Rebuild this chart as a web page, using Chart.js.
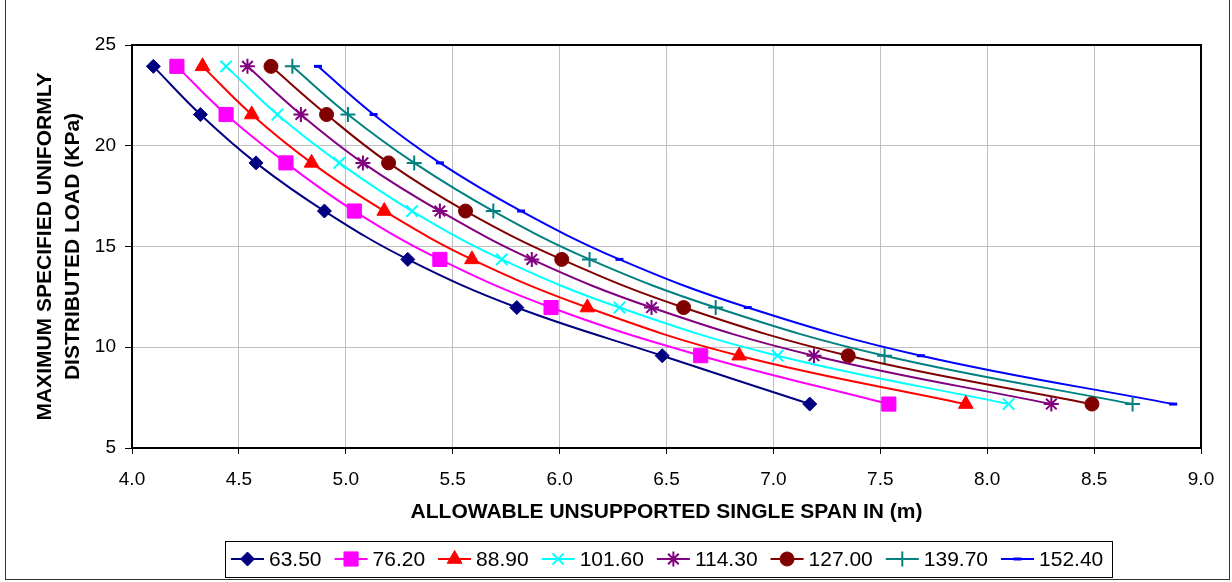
<!DOCTYPE html>
<html>
<head>
<meta charset="utf-8">
<script src="https://cdn.jsdelivr.net/npm/chart.js@4.4.0/dist/chart.umd.min.js"></script>
<style>
  html, body { margin: 0; padding: 0; background: #fff; }
</style>
</head>
<body>
<canvas id="myChart" width="1232" height="582"></canvas>
<script>
// load levels (KPa), shared by every series
const loads = [23.94, 21.55, 19.15, 16.76, 14.36, 11.97, 9.58, 7.18];

const seriesNames = ["63.50", "76.20", "88.90", "101.60", "114.30", "127.00", "139.70", "152.40"];

// allowable span (m) for each series, one per load level
const span6350 = [4.10, 4.32, 4.58, 4.90, 5.29, 5.80, 6.48, 7.17];
const span7620 = [4.21, 4.44, 4.72, 5.04, 5.44, 5.96, 6.66, 7.54];
const span8890 = [4.33, 4.56, 4.84, 5.18, 5.59, 6.13, 6.84, 7.90];
const span10160 = [4.44, 4.68, 4.97, 5.31, 5.73, 6.28, 7.02, 8.10];
const span11430 = [4.54, 4.79, 5.08, 5.44, 5.87, 6.43, 7.19, 8.30];
const span12700 = [4.65, 4.91, 5.20, 5.56, 6.01, 6.58, 7.35, 8.49];
const span13970 = [4.75, 5.01, 5.32, 5.69, 6.14, 6.73, 7.52, 8.68];
const span15240 = [4.87, 5.13, 5.44, 5.82, 6.28, 6.88, 7.69, 8.87];

const spans = [span6350, span7620, span8890, span10160, span11430, span12700, span13970, span15240];

const colors = ["#000080", "#ff00ff", "#ff0000", "#00ffff", "#800080", "#800000", "#008080", "#0000ff"];
const markers = ["rectRot", "rect", "triangle", "crossRot", "star", "circle", "cross", "line"];
const markerSize = [7, 10, 8.5, 8, 7.5, 7, 7.5, 4];
const markerLine = [1, 1, 1, 2, 2, 1, 2, 3];

const FONT = "'Liberation Sans', Arial, sans-serif";

const datasets = seriesNames.map(function (name, i) {
  return {
    label: name,
    data: spans[i].map(function (x, j) { return { x: x, y: loads[j] }; }),
    borderColor: colors[i],
    backgroundColor: colors[i],
    borderWidth: 2,
    tension: 0.4,
    pointStyle: markers[i],
    pointRadius: markerSize[i],
    pointBorderWidth: markerLine[i],
    pointBackgroundColor: colors[i],
    pointBorderColor: colors[i],
  };
});

// frame around plot area and whole figure
const frames = {
  id: "frames",
  afterDatasetsDraw(chart) {
    const ctx = chart.ctx;
    const a = chart.chartArea;
    ctx.save();
    ctx.strokeStyle = "#000";
    ctx.lineWidth = 2;
    ctx.strokeRect(a.left, a.top, a.right - a.left, a.bottom - a.top);
    ctx.lineWidth = 1;
    ctx.strokeStyle = "#333";
    ctx.strokeRect(5.5, -2, 1224, 581.5);
    ctx.restore();
  },
};

// excel-like legend: line with marker, in a box under the chart
const lineLegend = {
  id: "lineLegend",
  afterDraw(chart) {
    const ctx = chart.ctx;
    ctx.save();
    ctx.font = "21px " + FONT;
    const lineLen = 33, gapText = 5, gapItem = 13;
    const cy = 559;
    let x = 231;
    ctx.strokeStyle = "#000";
    ctx.lineWidth = 1;
    ctx.strokeRect(225.5, 541.5, 887, 36);
    chart.data.datasets.forEach(function (ds) {
      ctx.strokeStyle = ds.borderColor;
      ctx.lineWidth = 2;
      ctx.beginPath();
      ctx.moveTo(x, cy);
      ctx.lineTo(x + lineLen, cy);
      ctx.stroke();
      ctx.fillStyle = ds.pointBackgroundColor;
      ctx.lineWidth = ds.pointBorderWidth;
      Chart.helpers.drawPoint(ctx, {
        pointStyle: ds.pointStyle,
        radius: ds.pointRadius,
        borderWidth: ds.pointBorderWidth,
        rotation: 0,
      }, x + lineLen / 2, cy);
      ctx.fillStyle = "#000";
      ctx.textBaseline = "middle";
      ctx.textAlign = "left";
      const tx = x + lineLen + gapText;
      ctx.fillText(ds.label, tx, cy + 1);
      x = tx + ctx.measureText(ds.label).width + gapItem;
    });
    ctx.restore();
  },
};

const ctx = document.getElementById("myChart").getContext("2d");

new Chart(ctx, {
  type: "line",
  data: { datasets: datasets },
  options: {
    responsive: false,
    animation: false,
    layout: { padding: { left: 7, top: 45, right: 31, bottom: 54 } },
    plugins: {
      legend: { display: false },
      tooltip: { enabled: false },
    },
    scales: {
      x: {
        type: "linear",
        min: 4,
        max: 9,
        afterFit: function (s) { s.height = 80; },
        ticks: {
          stepSize: 0.5,
          color: "#000",
          padding: 14,
          font: { family: FONT, size: 19 },
          callback: function (v) { return v.toFixed(1); },
        },
        grid: { color: "#c0c0c0", tickColor: "#000", tickLength: 6, lineWidth: 1 },
        border: { color: "#000", width: 2 },
        title: {
          display: true,
          text: "ALLOWABLE UNSUPPORTED SINGLE SPAN IN (m)",
          color: "#000",
          font: { family: FONT, size: 21, weight: "bold", lineHeight: 1.2 },
          padding: { top: 0, bottom: 3 },
        },
      },
      y: {
        type: "linear",
        min: 5,
        max: 25,
        afterFit: function (s) { s.width = 125; },
        ticks: {
          stepSize: 5,
          color: "#000",
          padding: 9,
          font: { family: FONT, size: 19 },
        },
        grid: { color: "#c0c0c0", tickColor: "#000", tickLength: 7, lineWidth: 1 },
        border: { color: "#000", width: 2 },
        title: {
          display: true,
          text: ["MAXIMUM SPECIFIED UNIFORMLY", "DISTRIBUTED LOAD (KPa)"],
          color: "#000",
          font: { family: FONT, size: 21, weight: "bold", lineHeight: 1.3 },
          padding: { top: 25, bottom: 0 },
        },
      },
    },
  },
  plugins: [frames, lineLegend],
});
</script>
</body>
</html>
